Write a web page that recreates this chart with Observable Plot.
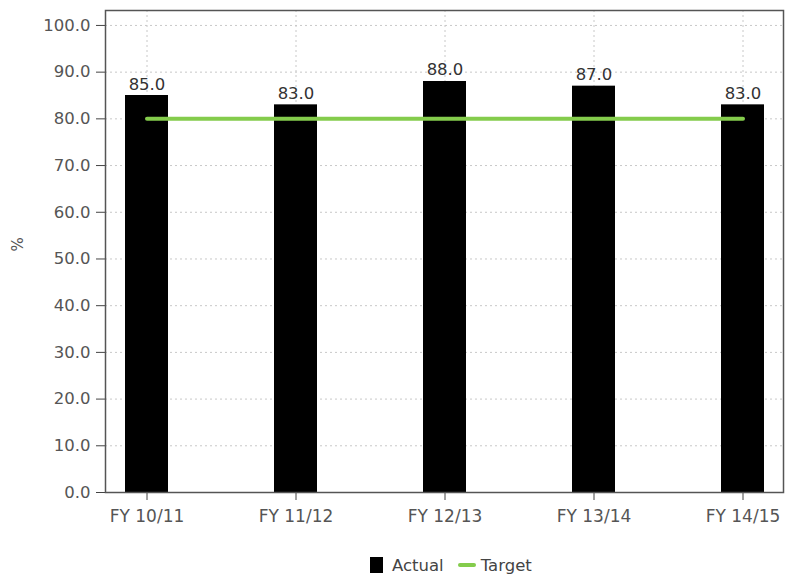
<!DOCTYPE html>
<html>
<head>
<meta charset="utf-8">
<script src="https://cdn.jsdelivr.net/npm/d3@7"></script>
<script src="https://cdn.jsdelivr.net/npm/@observablehq/plot@0.6"></script>
<style>
  html, body { margin: 0; padding: 0; background: #fff; }
  body { width: 789px; height: 575px; overflow: hidden; font-family: "DejaVu Sans", Verdana, sans-serif; }
  #legend { display: flex; align-items: center; height: 18px; margin-top: 16px; padding-left: 370px; font-size: 16.5px; color: #444; }
  .sw-bar { width: 13px; height: 16px; background: #000; margin-right: 9px; }
  .sw-line { width: 18px; height: 4px; background: #84cc4c; border-radius: 2px; margin-left: 14px; margin-right: 5px; }
</style>
</head>
<body>
<div id="chart"></div>
<div id="legend"><div class="sw-bar"></div><span>Actual</span><div class="sw-line"></div><span>Target</span></div>
<script>
const categories = ["FY 10/11", "FY 11/12", "FY 12/13", "FY 13/14", "FY 14/15"];
const actual = [85.0, 83.0, 88.0, 87.0, 83.0];
const target = [80.0, 80.0, 80.0, 80.0, 80.0];
const yTicks = [0, 10, 20, 30, 40, 50, 60, 70, 80, 90, 100];

const data = categories.map((c, i) => ({cat: c, actual: actual[i], target: target[i]}));

const chart = Plot.plot({
  width: 789,
  height: 540,
  marginLeft: 105,
  marginRight: 6,
  marginTop: 10,
  marginBottom: 48,
  style: {fontFamily: "'DejaVu Sans', Verdana, sans-serif", fontSize: "16.5px", color: "#555", background: "#fff"},
  x: {type: "band", domain: categories, paddingInner: 0.713, paddingOuter: 0.12, label: null},
  y: {domain: [0, 103.2], label: null},
  marks: [
    Plot.gridY(yTicks, {stroke: "#c8c8c8", strokeOpacity: 1, strokeDasharray: "2,3"}),
    Plot.gridX(categories, {stroke: "#c8c8c8", strokeOpacity: 1, strokeDasharray: "2,3"}),
    Plot.barY(data, {x: "cat", y: "actual", fill: "#000"}),
    Plot.lineY(data, {x: "cat", y: "target", stroke: "#84cc4c", strokeWidth: 4, strokeLinecap: "round"}),
    Plot.text(data, {x: "cat", y: "actual", text: d => d3.format(".1f")(d.actual), lineAnchor: "bottom", dy: -6, fill: "#333", fontSize: 16.5}),
    Plot.axisY({ticks: yTicks, tickFormat: d3.format(".1f"), tickSize: 9, tickPadding: 6, stroke: "#444", fill: "#555", label: null}),
    Plot.axisX({tickSize: 8, tickPadding: 9, stroke: "#444", fill: "#555", fontSize: 17, label: null}),
    Plot.frame({stroke: "#555", strokeWidth: 1.5}),
    Plot.text(["%"], {frameAnchor: "left", dx: -87, dy: 0, rotate: -90, fill: "#555", fontSize: 15})
  ]
});
document.getElementById("chart").appendChild(chart);
</script>
</body>
</html>
